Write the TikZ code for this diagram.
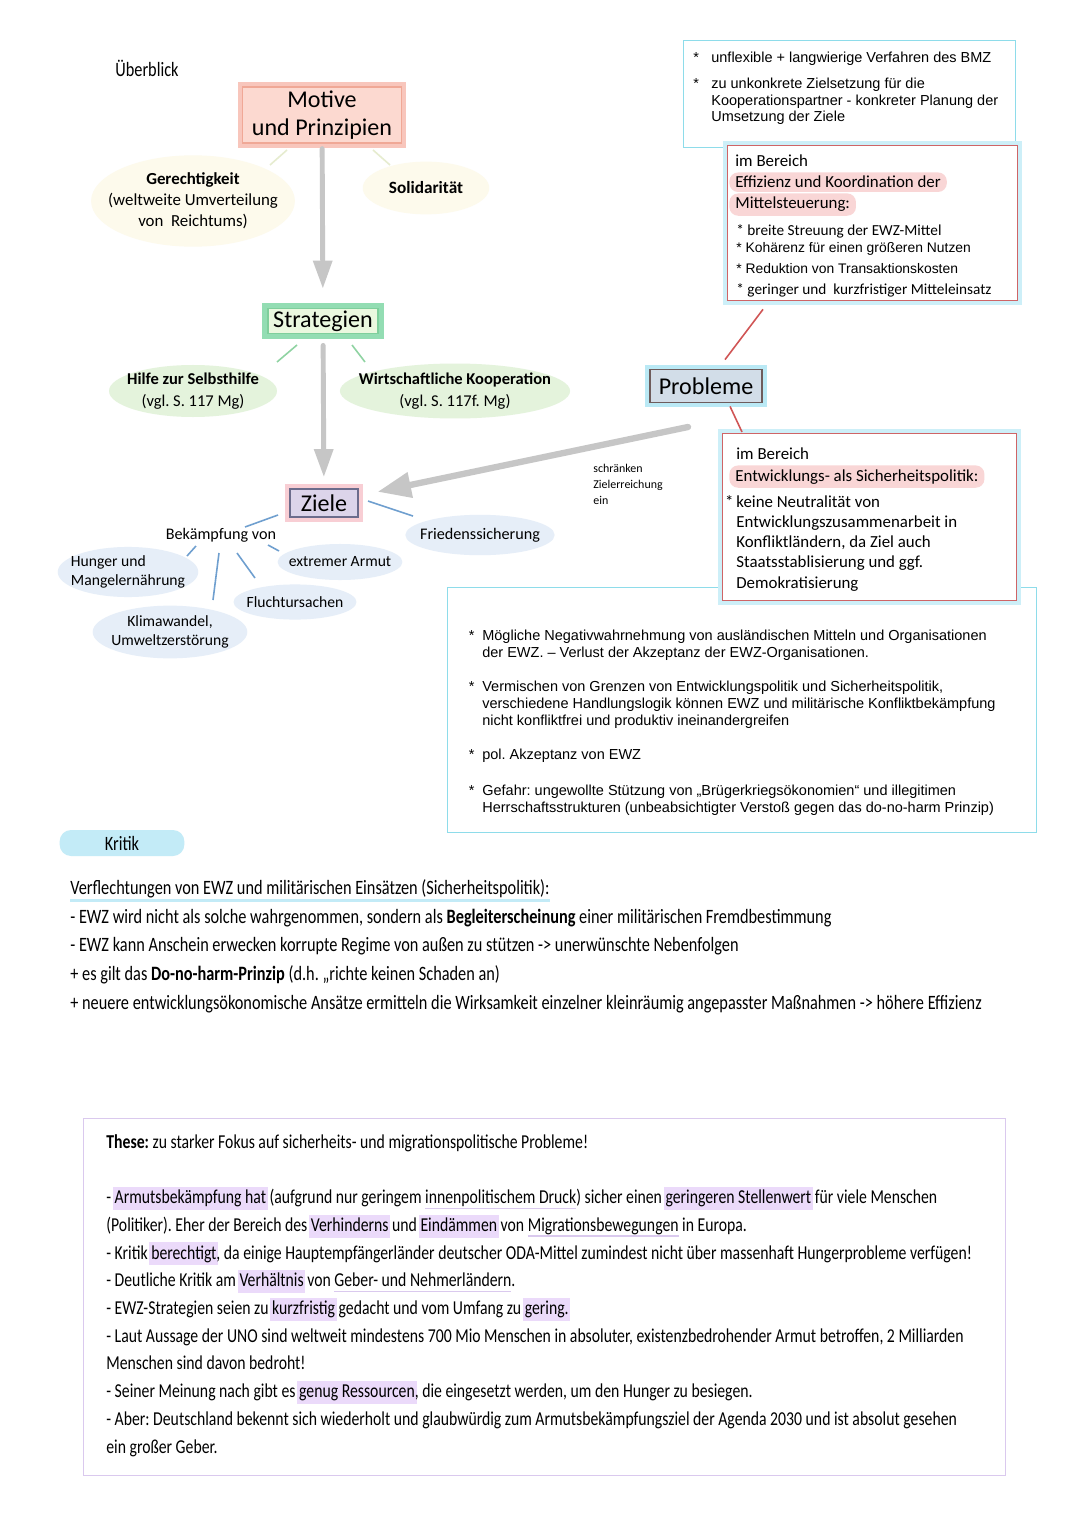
\documentclass[tikz,border=0pt]{standalone}
\usepackage{fontspec}
\setmainfont{Carlito}
\newfontfamily\arialf{Liberation Sans}
\newfontfamily\handf[FakeStretch=0.8]{Carlito}
\usepackage{xcolor}
\usepackage{tikz}
\usetikzlibrary{shapes,arrows.meta,positioning,calc}
\frenchspacing

\definecolor{motivefill}{HTML}{FCD9D0}
\definecolor{motiveglow}{HTML}{F8C6BC}
\definecolor{motiveline}{HTML}{F0A896}
\definecolor{stratfill}{HTML}{EAF8DF}
\definecolor{stratglow}{HTML}{93DDB3}
\definecolor{stratline}{HTML}{7FCF9C}
\definecolor{zielefill}{HTML}{DCD4EA}
\definecolor{zieleglow}{HTML}{F8CED4}
\definecolor{zieleline}{HTML}{6C6C8C}
\definecolor{problfill}{HTML}{D2DDE8}
\definecolor{problglow}{HTML}{BAE9F5}
\definecolor{problline}{HTML}{6E5C5C}
\definecolor{arrowgray}{HTML}{C6C6C6}
\definecolor{yellowfill}{HTML}{FDFAEC}
\definecolor{greenfill}{HTML}{E4F3DC}
\definecolor{bluefill}{HTML}{E6EEF8}
\definecolor{bluespoke}{HTML}{6F9FCF}
\definecolor{greenspoke}{HTML}{8FD3A2}
\definecolor{yellowspoke}{HTML}{E6ECCF}
\definecolor{redspoke}{HTML}{D05555}
\definecolor{cyanline}{HTML}{8EDCEA}
\definecolor{cyanglow}{HTML}{CDEFF8}
\definecolor{redline}{HTML}{CF6466}
\definecolor{hlpink}{HTML}{F9D6D6}
\definecolor{kritikblue}{HTML}{C3EBF7}
\definecolor{lavline}{HTML}{DAC9EE}
\definecolor{lavfill}{HTML}{EBDAFA}

% highlighted and underlined words in the handwritten notes
\newcommand{\lavhl}[1]{\setbox0\hbox{#1}\rlap{\hspace{-1pt}\color{lavfill}\rule[-3.5pt]{\dimexpr\wd0+2pt\relax}{13pt}}\box0\relax}
\newcommand{\lavul}[1]{\setbox0\hbox{#1}\rlap{\color{lavline}\rule[-3pt]{\wd0}{0.8pt}}\box0\relax}

\begin{document}
\begin{tikzpicture}[x=0.02cm, y=-0.02cm,
    titlebox/.style={rectangle, draw=#1line, fill=#1fill, line width=0.8pt, inner sep=1pt, align=center,
      font=\fontsize{13.7}{15.9}\selectfont, preaction={draw=#1glow, line width=5.5pt}},
    bubble/.style={ellipse, fill=#1, inner sep=-40pt, align=center},
    spoke/.style={draw=#1, line width=0.9pt},
    grayarrow/.style={draw=arrowgray, line width=2.8pt, line cap=round, -{Triangle[length=16pt, width=10.5pt]}},
    panel/.style={rectangle, draw=#1, line width=0.8pt, fill=white, anchor=north west, inner sep=0},
    arialtxt/.style={anchor=base west, inner sep=0, align=left, font=\arialf\fontsize{8.25}{9.67}\selectfont},
    boxtxt/.style={anchor=base west, inner sep=0, align=left, font=\fontsize{9.6}{11.4}\selectfont},
    hlbox/.style={anchor=base west, fill=hlpink, rounded corners=5pt, inner xsep=3.4pt, inner ysep=2.2pt,
      font=\fontsize{9.6}{11.4}\selectfont},
    handtxt/.style={anchor=base west, inner sep=0, align=left, font=\handf\fontsize{11.6}{16.3}\selectfont}]

  \useasboundingbox (0,0) rectangle (1080,1527);
  \fill[white] (0,0) rectangle (1080,1527);

  \node[font=\handf\fontsize{11.6}{13}\selectfont] (ueberblick) at (147,68) {Überblick};

  % mind map
  \node[titlebox=motive, minimum width=90.5pt, minimum height=31.9pt] (motive) at (322,115) {Motive\\und Prinzipien};
  \node[bubble=yellowfill, minimum width=116pt, minimum height=52pt, font=\fontsize{9.6}{12}\selectfont] (gerecht) at (193,201)
    {\textbf{Gerechtigkeit}\\(weltweite Umverteilung\\von\ \ Reichtums)};
  \node[bubble=yellowfill, minimum width=72pt, minimum height=30pt, font=\fontsize{9.8}{12}\selectfont] (solid) at (426,188)
    {\textbf{Solidarität}};

  \node[titlebox=strat, minimum width=63pt, minimum height=14.2pt, line width=1pt, preaction={draw=stratglow, line width=6.5pt}] (strat) at (323,321) {Strategien};
  \node[bubble=greenfill, minimum width=95.6pt, minimum height=29.6pt, font=\fontsize{9.4}{12.5}\selectfont] (hilfe) at (193,391)
    {\textbf{Hilfe zur Selbsthilfe}\\(vgl. S. 117 Mg)};
  \node[bubble=greenfill, minimum width=131pt, minimum height=31.3pt, font=\fontsize{9.4}{12.5}\selectfont] (wirtko) at (455,391)
    {\textbf{Wirtschaftliche Kooperation}\\(vgl. S. 117f. Mg)};

  \node[titlebox=ziele, minimum width=38.7pt, minimum height=16pt, preaction={draw=zieleglow, line width=4.5pt}] (ziele) at (324,503) {Ziele};
  \node[inner sep=0, font=\fontsize{9.2}{11}\selectfont] (bek) at (221,535) {Bekämpfung von};
  \node[bubble=bluefill, minimum width=80pt, minimum height=28.5pt, font=\fontsize{8.9}{10.8}\selectfont, align=left] (hunger) at (128,572)
    {Hunger und\\Mangelernährung};
  \node[bubble=bluefill, minimum width=71pt, minimum height=20.5pt, font=\fontsize{8.9}{10.8}\selectfont] (armut) at (340,562) {extremer Armut};
  \node[bubble=bluefill, minimum width=70pt, minimum height=20pt, font=\fontsize{8.9}{10.8}\selectfont] (flucht) at (295,602) {Fluchtursachen};
  \node[bubble=bluefill, minimum width=88pt, minimum height=30pt, font=\fontsize{8.9}{11.2}\selectfont] (klima) at (170,632)
    {Klimawandel,\\Umweltzerstörung};
  \node[bubble=bluefill, minimum width=85pt, minimum height=23pt, font=\fontsize{9.2}{11}\selectfont] (frieden) at (480,535) {Friedenssicherung};

  \draw[spoke=yellowspoke] ($(motive)+(-35,35)$) -- ($(gerecht)+(77,-36)$);
  \draw[spoke=yellowspoke] ($(motive)+(51,35)$) -- ($(solid)+(-36,-23)$);
  \draw[spoke=greenspoke] ($(strat)+(-26,24)$) -- ($(hilfe)+(84,-29)$);
  \draw[spoke=greenspoke] ($(strat)+(29,24)$) -- ($(wirtko)+(-90,-29)$);
  \draw[spoke=bluespoke] ($(ziele)+(-46,12)$) -- ($(bek)+(24,-8)$);
  \draw[spoke=bluespoke] ($(ziele)+(44,-2)$) -- ($(frieden)+(-67,-19)$);
  \draw[spoke=bluespoke] ($(bek)+(-25,11)$) -- ($(hunger)+(59,-16)$);
  \draw[spoke=bluespoke] ($(bek)+(-2,18)$) -- ($(klima)+(43,-32)$);
  \draw[spoke=bluespoke] ($(bek)+(16,18)$) -- ($(flucht)+(-40,-24)$);
  \draw[spoke=bluespoke] ($(bek)+(47,10)$) -- ($(armut)+(-61,-11)$);

  \draw[grayarrow, shorten <=2.8pt, shorten >=10.8pt] (motive) -- (strat);
  \draw[grayarrow, shorten <=6.3pt, shorten >=6.3pt] (strat) -- (ziele);

  % Probleme
  \node[panel=cyanline, minimum width=189pt, minimum height=60.9pt] (bmzbox) at (683,40) {};
  \node[arialtxt] (bmz1) at (711,63) {\llap{*\hspace{7pt}}unflexible + langwierige Verfahren des BMZ};
  \node[arialtxt] (bmz2) at (711,122) {\llap{*\hspace{7pt}}zu unkonkrete Zielsetzung für die\\Kooperationspartner - konkreter Planung der\\Umsetzung der Ziele};

  \node[panel=redline, minimum width=165pt, minimum height=88.2pt, preaction={draw=cyanglow, line width=5pt}] (effiz) at (727,145) {};
  \node[boxtxt] (effiz1) at (735,167) {im Bereich};
  \node[hlbox] (effiz2) at (729,188) {Effizienz und Koordination der};
  \node[hlbox] (effiz3) at (729,209) {Mittelsteuerung:};
  \node[boxtxt, font=\fontsize{8.7}{10}\selectfont] (effiz4) at (736,236) {* breite Streuung der EWZ-Mittel};
  \node[arialtxt, font=\arialf\fontsize{7.9}{9}\selectfont] (effiz5) at (736,253) {* Kohärenz für einen größeren Nutzen};
  \node[arialtxt, font=\arialf\fontsize{7.9}{9}\selectfont] (effiz6) at (736,274) {* Reduktion von Transaktionskosten};
  \node[boxtxt, font=\fontsize{8.7}{10}\selectfont] (effiz7) at (736,295) {* geringer und\ \ kurzfristiger Mitteleinsatz};

  \node[titlebox=probl, minimum width=63.7pt, minimum height=18.8pt, line width=1pt, preaction={draw=problglow, line width=4.5pt}] (probl) at (706,386) {Probleme};
  \coordinate (probtail) at (688,427);
  \draw[grayarrow, line width=3.6pt, -{Triangle[length=19pt, width=14pt]}, shorten >=11pt] (probtail) -- (ziele);
  \node[anchor=base west, inner sep=0, align=left, font=\fontsize{6.8}{9.1}\selectfont] (schraenk) at (593,504) {schränken\\Zielerreichung\\ein};

  \node[panel=cyanline, minimum width=335pt, minimum height=139.4pt] (akzept) at (447,587) {};
  \node[arialtxt] (akzept1) at (482,657) {\llap{*\hspace{4.5pt}}Mögliche Negativwahrnehmung von ausländischen Mitteln und Organisationen\\der EWZ. – Verlust der Akzeptanz der EWZ-Organisationen.};
  \node[arialtxt] (akzept2) at (482,725) {\llap{*\hspace{4.5pt}}Vermischen von Grenzen von Entwicklungspolitik und Sicherheitspolitik,\\verschiedene Handlungslogik können EWZ und militärische Konfliktbekämpfung\\nicht konfliktfrei und produktiv ineinandergreifen};
  \node[arialtxt] (akzept3) at (482,759) {\llap{*\hspace{4.5pt}}pol. Akzeptanz von EWZ};
  \node[arialtxt] (akzept4) at (482,812) {\llap{*\hspace{4.5pt}}Gefahr: ungewollte Stützung von „Brügerkriegsökonomien“ und illegitimen\\Herrschaftsstrukturen (unbeabsichtigter Verstoß gegen das do-no-harm Prinzip)};

  \node[panel=redline, minimum width=167.3pt, minimum height=95pt, preaction={draw=cyanglow, line width=5pt}] (sicher) at (722,433) {};
  \node[boxtxt] (sicher1) at (736,459) {im Bereich};
  \node[hlbox] (sicher2) at (729,481) {Entwicklungs- als Sicherheitspolitik:};
  \node[boxtxt] (sicher3) at (736,588) {\llap{*\,}keine Neutralität von\\Entwicklungszusammenarbeit in\\Konfliktländern, da Ziel auch\\Staatsstablisierung und ggf.\\Demokratisierung};

  \draw[spoke=redspoke] ($(probl.north)+(19,-9)$) -- ($(effiz.south west)+(36,8)$);
  \draw[spoke=redspoke] ($(probl.south)+(24,3)$) -- ($(sicher.north west)+(20,-1)$);

  % Kritik
  \node[fill=kritikblue, rounded corners=6.5pt, minimum width=71pt, minimum height=13pt, font=\handf\fontsize{11.6}{13}\selectfont] (kritik) at (122,843) {Kritik};
  \node[handtxt] (verfl) at (70,894) {Verflechtungen von EWZ und militärischen Einsätzen (Sicherheitspolitik):};
  \draw[kritikblue, line width=1.7pt] ($(verfl.base west)+(0,6)$) -- ($(verfl.base east)+(0,6)$);
  \node[handtxt] (kritiktext) at (70,1009) {- EWZ wird nicht als solche wahrgenommen, sondern als \textbf{Begleiterscheinung} einer militärischen Fremdbestimmung\\
    - EWZ kann Anschein erwecken korrupte Regime von außen zu stützen -> unerwünschte Nebenfolgen\\
    + es gilt das \textbf{Do-no-harm-Prinzip} (d.h. „richte keinen Schaden an)\\
    + neuere entwicklungsökonomische Ansätze ermitteln die Wirksamkeit einzelner kleinräumig angepasster Maßnahmen -> höhere Effizienz};

  % These
  \node[panel=lavline, minimum width=524.6pt, minimum height=203.1pt, fill=none] (thesebox) at (83,1118) {};
  \node[handtxt, font=\handf\fontsize{11.2}{15.76}\selectfont] (these) at (106,1148) {\textbf{These:} zu starker Fokus auf sicherheits- und migrationspolitische Probleme!};
  \node[handtxt, font=\handf\fontsize{11.2}{15.76}\selectfont] (thesetext) at (106,1453) {- \lavhl{Armutsbekämpfung hat} (aufgrund nur geringem \lavul{innenpolitischem Druck}) sicher einen \lavhl{geringeren Stellenwert} für viele Menschen\\
    (Politiker). Eher der Bereich des \lavhl{Verhinderns} und \lavhl{Eindämmen} von \lavul{Migrationsbewegungen} in Europa.\\
    - Kritik \lavhl{berechtigt}, da einige Hauptempfängerländer deutscher ODA-Mittel zumindest nicht über massenhaft Hungerprobleme verfügen!\\
    - Deutliche Kritik am \lavhl{Verhältnis} von \lavul{Geber- und Nehmerländern}.\\
    - EWZ-Strategien seien zu \lavhl{kurzfristig} gedacht und vom Umfang zu \lavhl{gering.}\\
    - Laut Aussage der UNO sind weltweit mindestens 700 Mio Menschen in absoluter, existenzbedrohender Armut betroffen, 2 Milliarden\\
    Menschen sind davon bedroht!\\
    - Seiner Meinung nach gibt es \lavhl{genug Ressourcen}, die eingesetzt werden, um den Hunger zu besiegen.\\
    - Aber: Deutschland bekennt sich wiederholt und glaubwürdig zum Armutsbekämpfungsziel der Agenda 2030 und ist absolut gesehen\\
    ein großer Geber.};
\end{tikzpicture}
\end{document}
